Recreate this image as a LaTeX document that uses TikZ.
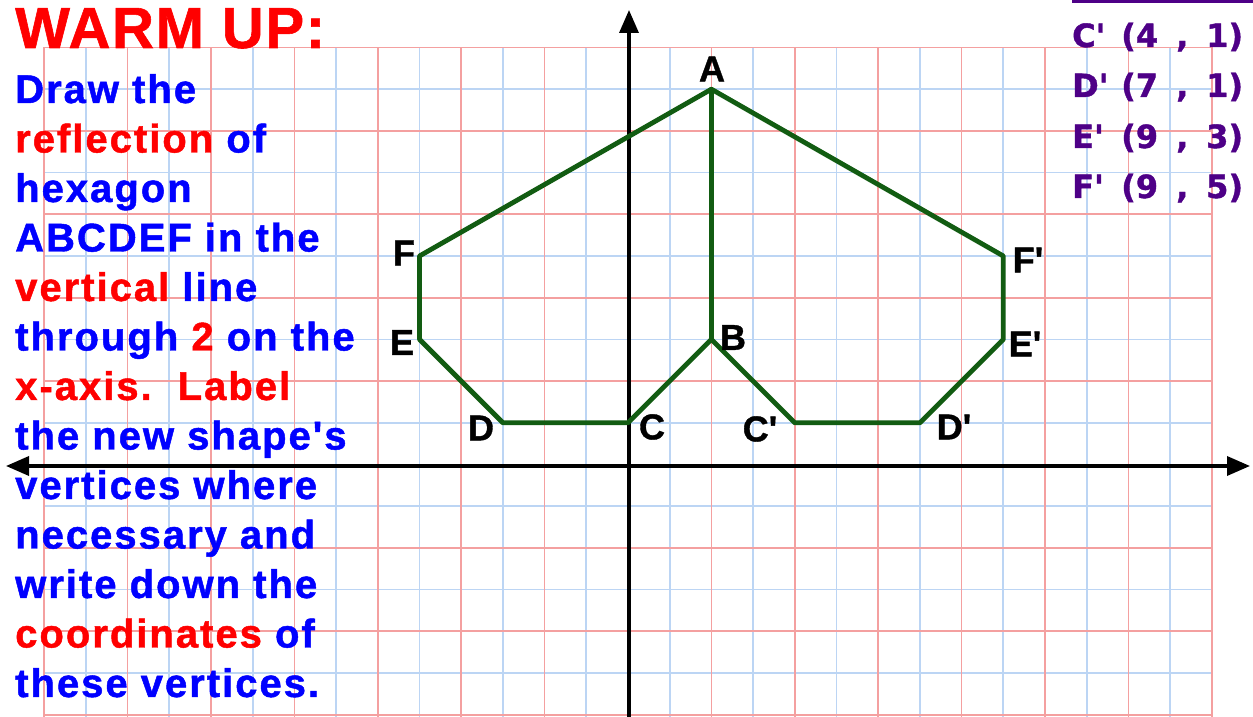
\documentclass[tikz,border=0pt]{standalone}
\usepackage{fontspec}
\usetikzlibrary{arrows.meta}
\newfontfamily\arialfont{Liberation Sans}[Ligatures=TeXOff,BoldFeatures={FakeBold=1}]
\newfontfamily\bodyfont{Liberation Sans}[LetterSpace=5,Ligatures=TeXOff,BoldFeatures={FakeBold=1.2}]
\newfontfamily\titlefont{Liberation Sans}[LetterSpace=3,BoldFeatures={FakeBold=1}]
\newfontfamily\purplefont{DejaVu Sans}[Ligatures=TeXOff,BoldFeatures={FakeBold=1.2}]
\definecolor{gpink}{RGB}{244,160,160}
\definecolor{gblue}{RGB}{188,213,244}
\definecolor{hexgreen}{RGB}{18,92,18}
\definecolor{ptext}{RGB}{78,0,135}
\definecolor{tblue}{RGB}{0,0,255}
\definecolor{tred}{RGB}{255,0,0}
\begin{document}
\begin{tikzpicture}[x=1pt,y=1pt,
  body/.style={anchor=base west, inner sep=0pt, font=\fontsize{40}{40}\bodyfont\bfseries, text=tblue},
  title/.style={anchor=base west, inner sep=0pt, font=\fontsize{58}{58}\titlefont\bfseries, text=tred},
  lbl/.style={inner sep=0pt, font=\fontsize{36}{36}\arialfont\bfseries, text=black},
  crd/.style={anchor=base west, inner sep=0pt, font=\fontsize{32}{32}\purplefont\bfseries, text=ptext},
  gridb/.style={draw=gblue, line width=1.7pt},
  gridp/.style={draw=gpink, line width=1.7pt},
  axisline/.style={line width=3.5pt},
  tip/.tip={Triangle[length=23pt,width=19pt]},
  hex/.style={draw=hexgreen, line width=4.8pt, line join=round, line cap=round}]
\useasboundingbox (0,0) rectangle (1253,717);
\clip (0,0) rectangle (1253,717);
\fill[white] (0,0) rectangle (1253,717);
% grid
\begin{scope}[shift={(628,252.5)}, x=41.7pt, y=41.7pt]
  \foreach \i in {-13,-11,...,13} \draw[gridb] (\i,-6.2) -- (\i,10);
  \foreach \j in {-5,-3,...,9} \draw[gridb] (-14,\j) -- (14,\j);
  \foreach \i in {-14,-12,...,14} \draw[gridp] (\i,-6.2) -- (\i,10);
  \foreach \j in {-6,-4,...,10} \draw[gridp] (-14,\j) -- (14,\j);
  \coordinate (A) at (2,9);
  \coordinate (B) at (2,3);
  \coordinate (C) at (0,1);
  \coordinate (D) at (-3,1);
  \coordinate (E) at (-5,3);
  \coordinate (F) at (-5,5);
  \coordinate (Cp) at (4,1);
  \coordinate (Dp) at (7,1);
  \coordinate (Ep) at (9,3);
  \coordinate (Fp) at (9,5);
\end{scope}
% axes
\coordinate (xl) at (6,251);
\coordinate (xr) at (1250,251);
\coordinate (yb) at (629,-5);
\coordinate (yt) at (629,707);
\draw[axisline, tip-tip] (xl) -- (xr);
\draw[axisline, -tip] (yb) -- (yt);
% hexagons
\draw[hex] (A) -- (B) -- (C) -- (D) -- (E) -- (F) -- cycle;
\draw[hex] (A) -- (Fp) -- (Ep) -- (Dp) -- (Cp) -- (B);
% vertex labels
\node[lbl] (lA) at (712,648) {A};
\node[lbl] (lB) at (733,379.5) {B};
\node[lbl] (lC) at (652,290) {C};
\node[lbl] (lD) at (481,289) {D};
\node[lbl] (lE) at (402,374.5) {E};
\node[lbl] (lF) at (404,464) {F};
\node[lbl] (lCp) at (760,288) {C'};
\node[lbl] (lDp) at (954,290) {D'};
\node[lbl] (lEp) at (1025,373) {E'};
\node[lbl] (lFp) at (1028,457) {F'};
% instructions
\node[title] (t0) at (15,669) {WARM UP:};
\node[body] (t1) at (15,614) {Draw the};
\node[body] (t2) at (15,564.5) {\textcolor{tred}{reflection} of};
\node[body] (t3) at (15,515) {hexagon};
\node[body] (t4) at (15,465.5) {ABCDEF in the};
\node[body] (t5) at (15,416) {\textcolor{tred}{vertical} line};
\node[body] (t6) at (15,366.5) {through \textcolor{tred}{2} on the};
\node[body] (t7) at (15,317) {\textcolor{tred}{x-axis.\hspace{26pt}Label}};
\node[body] (t8) at (15,267.5) {the new shape's};
\node[body] (t9) at (15,218) {vertices where};
\node[body] (t10) at (15,168.5) {necessary and};
\node[body] (t11) at (15,119) {write down the};
\node[body] (t12) at (15,69.5) {\textcolor{tred}{coordinates} of};
\node[body] (t13) at (15,20) {these vertices.};
% coordinates list
\coordinate (ul) at (1072,715.5);
\coordinate (ur) at (1253,715.5);
\draw[ptext, line width=3pt] (ul) -- (ur);
\node[crd] (c1a) at (1072,670) {C'};
\node[crd] (c1b) at (1121,670) {(4};
\node[crd] (c1c) at (1176,670) {,};
\node[crd] (c1d) at (1206,670) {1)};
\node[crd] (c2a) at (1072,620) {D'};
\node[crd] (c2b) at (1121,620) {(7};
\node[crd] (c2c) at (1176,620) {,};
\node[crd] (c2d) at (1206,620) {1)};
\node[crd] (c3a) at (1072,569) {E'};
\node[crd] (c3b) at (1121,569) {(9};
\node[crd] (c3c) at (1176,569) {,};
\node[crd] (c3d) at (1206,569) {3)};
\node[crd] (c4a) at (1072,519) {F'};
\node[crd] (c4b) at (1121,519) {(9};
\node[crd] (c4c) at (1176,519) {,};
\node[crd] (c4d) at (1206,519) {5)};
\end{tikzpicture}
\end{document}
